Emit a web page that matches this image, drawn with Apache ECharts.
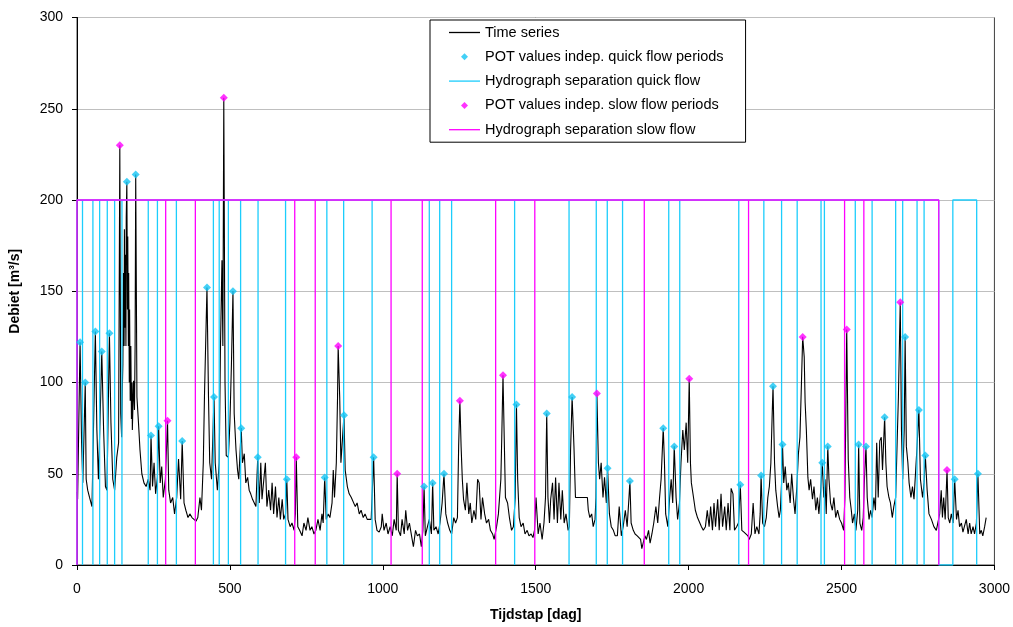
<!DOCTYPE html>
<html>
<head>
<meta charset="utf-8">
<script src="https://cdn.jsdelivr.net/npm/echarts@6/dist/echarts.min.js"></script>
<style>
html,body{margin:0;padding:0;background:#fff;}
#chart{width:1013px;height:627px;}
</style>
</head>
<body>
<div id="chart"></div>
<script>
// ---- Data ----
const xTicks = [0, 500, 1000, 1500, 2000, 2500, 3000];
const yTicks = [0, 50, 100, 150, 200, 250, 300];

// Time series (day, discharge m3/s)
const tsDays = [0,2,10,15,19,27,30,35,41,49,54,60,65,70,76,81,87,93,98,106,111,117,123,130,136,140,143,146,148,150,152,154,155,156,158,160,161,163,165,166,168,169,171,172,174,176,178,180,181,185,188,190,192,196,201,206,212,219,226,233,239,242,247,252,257,263,267,272,277,282,289,296,300,306,313,319,326,332,339,344,350,356,363,369,376,382,389,395,402,407,413,417,425,430,434,440,448,452,459,465,469,474,477,480,484,488,
495,500,505,510,514,520,525,529,537,541,547,552,558,563,568,574,579,585,591,596,601,605,611,616,621,627,633,638,643,649,654,660,665,671,676,682,686,690,697,703,710,714,717,722,728,736,742,749,755,762,768,775,781,788,795,801,805,810,815,821,827,834,838,842,848,852,854,859,863,867,873,877,884,890,897,903,910,916,923,929,936,942,949,955,962,970,975,981,988,995,
998,1004,1011,1017,1024,1031,1037,1044,1047,1051,1058,1063,1070,1075,1081,1087,1094,1100,1107,1113,1120,1126,1131,1135,1139,1146,1152,1159,1163,1167,1174,1181,1187,1194,1200,1206,1212,1219,1225,1232,1238,1244,1248,1252,1256,1260,1264,1270,1275,1281,1286,1291,1298,1304,1310,1315,1321,1326,1333,1339,1346,1352,1359,1364,1372,1378,1386,1389,1393,1397,1401,1408,1414,1421,1427,1433,1437,1441,1446,1452,1459,1465,1472,1478,1485,1491,
1496,1501,1508,1514,1521,1527,1532,1536,1540,1545,1549,1555,1560,1565,1571,1576,1582,1587,1593,1599,1606,1610,1614,1619,1622,1625,1630,1669,1672,1677,1683,1688,1694,1697,1700,1705,1709,1714,1720,1725,1731,1735,1741,1747,1754,1760,1767,1773,1780,1786,1793,1799,1805,1808,1812,1819,1825,1832,1838,1843,1847,1851,1857,1862,1869,1874,1880,1886,1893,1899,1905,1910,1917,1921,1925,1932,1938,1943,1948,1953,1959,1964,1970,1975,1981,1986,1992,1997,2002,
2006,2009,2016,2022,2029,2035,2042,2048,2055,2061,2067,2072,2078,2083,2088,2095,2100,2106,2111,2118,2123,2129,2135,2139,2145,2150,2157,2163,2169,2174,2181,2187,2194,2198,2205,2211,2217,2223,2230,2234,2237,2242,2248,2254,2259,2264,2269,2273,2276,2281,2285,2291,2296,2300,2304,2307,2311,2316,2321,2326,2332,2337,2343,2348,2354,2359,2364,2369,2373,2378,2381,2385,2390,2394,2399,2405,2410,2416,2421,2426,2432,2437,2442,2446,2450,2455,2459,2464,2470,2475,2481,2487,2494,2500,2507,2511,2517,
2522,2527,2532,2536,2542,2547,2553,2556,2560,2566,2571,2575,2580,2584,2590,2595,2600,2606,2611,2615,2620,2625,2630,2634,2641,2645,2649,2655,2660,2666,2671,2677,2682,2686,2692,2696,2700,2705,2708,2712,2717,2721,2727,2732,2737,2743,2747,2753,2758,2765,2770,2774,2780,2786,2794,2802,2810,2816,2821,2826,2830,2834,2839,2845,2849,2854,2859,2865,2870,2876,2881,2886,2892,2897,2903,2908,2914,2919,2924,2930,2935,2941,2946,2952,2957,2962,2968,2973];
const tsValues = [40,36,122,67,45,100,47,41,37,32,31,128,74,47,83,117,74,43,41,127,78,47,41,59,67,230,83,70,95,110,160,120,184,130,170,120,190,210,140,180,120,160,100,140,90,120,80,100,74,101,85,120,214,92,78,63,50,45,43,47,41,71,43,56,39,48,76,45,54,37,47,79,41,34,37,28,37,58,36,68,34,30,26,28,26,26,24,26,37,30,56,94,152,92,56,47,92,56,41,56,118,167,120,256,100,60,
59,78,110,150,83,63,52,47,75,56,61,45,48,41,39,36,37,32,59,34,56,36,47,56,32,41,30,45,28,43,26,37,25,36,25,28,47,25,21,23,19,28,59,21,19,16,23,19,26,19,21,17,19,25,19,28,23,48,25,28,26,34,52,37,56,92,120,92,56,56,82,52,43,39,37,36,32,34,28,30,26,28,25,24,25,59,25,19,18,21,
28,19,23,17,21,16,25,19,50,19,16,25,17,30,19,23,16,10,19,16,17,10,19,43,16,21,25,17,45,19,21,17,23,34,50,28,23,19,17,26,23,26,65,90,65,47,36,30,45,28,34,23,30,25,47,45,25,37,28,23,25,19,17,14,21,28,47,70,104,70,37,34,26,19,21,37,88,47,26,21,23,17,19,16,17,15,
19,37,17,23,14,23,37,83,37,23,36,45,25,48,23,45,25,41,23,28,19,21,63,92,79,65,37,37,30,26,28,21,25,37,94,56,47,56,37,48,34,53,28,21,19,16,16,32,16,21,30,21,37,46,23,19,17,16,16,14,9,8,16,14,19,12,17,23,32,23,37,47,75,56,28,21,37,47,34,65,37,25,34,56,74,63,78,56,102,
56,45,37,30,26,25,21,19,21,30,21,32,19,34,21,36,19,39,21,32,19,34,19,42,39,19,21,23,44,19,18,17,16,14,17,34,17,21,17,28,49,23,21,26,37,43,56,81,98,56,41,32,26,30,45,66,45,54,41,45,34,50,36,28,43,61,70,100,125,114,89,74,48,41,47,36,43,30,37,28,41,56,37,47,28,65,47,34,30,37,26,30,25,23,19,37,129,
58,37,30,23,28,19,30,66,23,19,26,47,65,37,25,30,26,37,30,67,37,68,70,52,81,56,43,37,34,26,32,37,68,92,144,74,47,74,125,65,56,45,37,43,36,37,65,85,47,37,45,60,41,28,25,21,19,18,28,41,26,37,25,52,26,23,28,23,47,25,30,21,23,18,19,25,17,23,17,21,17,23,50,17,19,16,21,26];

// POT values, independent quick flow periods
const quickPotDays = [10,27,60,81,106,163,192,242,267,344,425,448,510,537,591,686,810,873,970,1135,1163,1200,1437,1536,1619,1735,1808,1917,1953,2169,2237,2276,2307,2437,2455,2556,2580,2641,2708,2753,2774,2870,2946];
const quickPotValues = [122,100,128,117,127,210,214,71,76,68,152,92,150,75,59,47,48,82,59,43,45,50,88,83,92,53,46,75,65,44,49,98,66,56,65,66,65,81,125,85,60,47,50];

// POT values, independent slow flow periods
const slowPotDays = [140,296,480,717,854,1047,1252,1393,1700,2002,2373,2517,2692,2845];
const slowPotValues = [230,79,256,59,120,50,90,104,94,102,125,129,144,52];

// Hydrograph separation days (level 200 between separations, 0 at separation)
const sepLevel = 200;
const quickSepDays = [0,18,52,74,99,123,147,233,263,325,446,465,495,535,592,682,817,872,965,1152,1186,1225,1431,1609,1698,1734,1784,1935,1971,2164,2246,2304,2355,2433,2444,2545,2600,2677,2700,2747,2770,2818,2864,2942];
const quickOffAfter = [2818];
const slowSepDays = [0,290,387,712,779,1027,1129,1369,1497,1855,2196,2510,2573,2818];
const slowOffAfter = [];

// ---- Build series data ----
function zip(a, b) { return a.map((d, i) => [d, b[i]]); }
function sepLine(days, offAfter) {
  const pts = [];
  for (let i = 0; i < days.length; i++) {
    const d = days[i];
    const prev = (i === 0 || offAfter.includes(days[i - 1])) ? 0 : sepLevel;
    const next = (i === days.length - 1 || offAfter.includes(d)) ? 0 : sepLevel;
    pts.push([d, prev], [d, 0], [d, next]);
  }
  return pts;
}

const FONT = '"Liberation Sans", Arial, sans-serif';
const CYAN_LINE = '#1ccdfc';
const CYAN_MARK = '#14c4f4';
const MAGENTA = '#ff00ff';
const LINE_ICON = 'path://M0,0 L31,0 L31,1.3 L0,1.3 Z';
const DIAMOND_ICON = 'path://M0,-1 L1,0 L0,1 L-1,0 Z';

const chart = echarts.init(document.getElementById('chart'), null, {renderer: 'canvas'});
const option = {
  animation: false,
  backgroundColor: '#fff',
  grid: {left: 77, right: 17, top: 17.5, bottom: 62, show: true, borderColor: '#404040', borderWidth: 1, backgroundColor: 'transparent'},
  xAxis: {
    type: 'value', min: xTicks[0], max: xTicks[xTicks.length - 1], interval: 500,
    axisLine: {lineStyle: {color: '#000', width: 1}},
    axisTick: {show: true, length: 5, lineStyle: {color: '#000'}},
    axisLabel: {fontFamily: FONT, fontSize: 14, color: '#000', margin: 17, formatter: v => String(v)},
    splitLine: {show: false},
    name: 'Tijdstap [dag]', nameLocation: 'middle', nameGap: 43,
    nameTextStyle: {fontFamily: FONT, fontSize: 14, fontWeight: 'bold', color: '#000'}
  },
  yAxis: {
    type: 'value', min: yTicks[0], max: yTicks[yTicks.length - 1], interval: 50,
    axisLine: {show: true, lineStyle: {color: '#000', width: 1}},
    axisTick: {show: true, length: 5, lineStyle: {color: '#000'}},
    axisLabel: {fontFamily: FONT, fontSize: 14, color: '#000', margin: 14, formatter: v => String(v)},
    splitLine: {show: true, lineStyle: {color: '#bfbfbf', width: 1}},
    name: 'Debiet [m³/s]', nameLocation: 'middle', nameGap: 55,
    nameTextStyle: {fontFamily: FONT, fontSize: 14, fontWeight: 'bold', color: '#000'}
  },
  legend: {
    orient: 'vertical', left: 430, top: 20,
    backgroundColor: '#fff', borderColor: '#000', borderWidth: 1,
    padding: [5, 22, 5, 19], itemWidth: 31, itemHeight: 7, itemGap: 9.3,
    symbolKeepAspect: true,
    textStyle: {fontFamily: FONT, fontSize: 14.5, color: '#000', lineHeight: 15},
    data: [
      {name: 'Time series', icon: LINE_ICON},
      {name: 'POT values indep. quick flow periods', icon: DIAMOND_ICON},
      {name: 'Hydrograph separation quick flow', icon: LINE_ICON},
      {name: 'POT values indep. slow flow periods', icon: DIAMOND_ICON},
      {name: 'Hydrograph separation slow flow', icon: LINE_ICON}
    ]
  },
  series: [
    {name: 'Time series', type: 'line', data: zip(tsDays, tsValues), showSymbol: false, symbol: 'none',
     lineStyle: {color: '#000', width: 1.1}, itemStyle: {color: '#000'}, z: 2},
    {name: 'POT values indep. quick flow periods', type: 'scatter', data: zip(quickPotDays, quickPotValues),
     symbol: 'diamond', symbolSize: 8, itemStyle: {color: CYAN_MARK}, z: 4},
    {name: 'Hydrograph separation quick flow', type: 'line', data: sepLine(quickSepDays, quickOffAfter),
     showSymbol: false, symbol: 'none', lineStyle: {color: CYAN_LINE, width: 1.3}, itemStyle: {color: CYAN_LINE}, z: 3},
    {name: 'POT values indep. slow flow periods', type: 'scatter', data: zip(slowPotDays, slowPotValues),
     symbol: 'diamond', symbolSize: 8, itemStyle: {color: MAGENTA}, z: 4},
    {name: 'Hydrograph separation slow flow', type: 'line', data: sepLine(slowSepDays, slowOffAfter),
     showSymbol: false, symbol: 'none', lineStyle: {color: MAGENTA, width: 1.3}, itemStyle: {color: MAGENTA}, z: 3}
  ]
};
chart.setOption(option);
</script>
</body>
</html>
